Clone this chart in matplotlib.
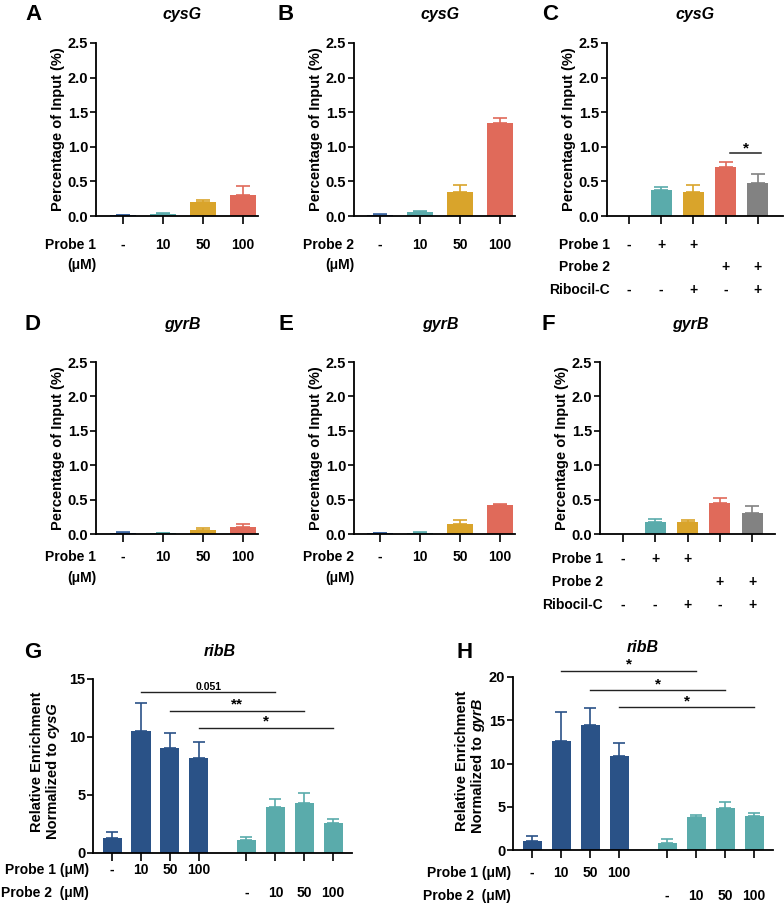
import matplotlib
matplotlib.use("Agg")
import matplotlib.pyplot as plt

# ---------------- data ----------------
# top / middle rows: Percentage of Input (%)
a_mean = [0.01, 0.03, 0.20, 0.30]
a_err = [0.01, 0.01, 0.03, 0.13]
b_mean = [0.02, 0.06, 0.35, 1.34]
b_err = [0.01, 0.01, 0.10, 0.07]
c_mean = [0.0, 0.38, 0.35, 0.71, 0.48]
c_err = [0.0, 0.04, 0.10, 0.07, 0.12]
d_mean = [0.02, 0.01, 0.06, 0.10]
d_err = [0.005, 0.005, 0.02, 0.05]
e_mean = [0.01, 0.02, 0.15, 0.42]
e_err = [0.005, 0.01, 0.06, 0.02]
f_mean = [0.0, 0.17, 0.18, 0.45, 0.31]
f_err = [0.0, 0.05, 0.02, 0.07, 0.09]

dose_labels = ['-', '10', '50', '100']
c_probe1 = ['-', '+', '+', '', '']
c_probe2 = ['', '', '', '+', '+']
c_ribocil = ['-', '-', '+', '-', '+']

# bottom row: relative enrichment of ribB
g_mean = [1.3, 10.55, 9.05, 8.2, 1.1, 4.0, 4.35, 2.6]
g_err = [0.55, 2.35, 1.3, 1.4, 0.25, 0.65, 0.8, 0.3]
h_mean = [1.0, 12.6, 14.45, 10.9, 0.85, 3.85, 4.9, 3.95]
h_err = [0.65, 3.35, 2.0, 1.45, 0.45, 0.2, 0.7, 0.35]
g_probe1 = ['-', '10', '50', '100', '', '', '', '']
g_probe2 = ['', '', '', '', '-', '10', '50', '100']
g_sig = ['0.051', '**', '*']
g_sig_y = [13.9, 12.25, 10.8]
h_sig = ['*', '*', '*']
h_sig_y = [20.7, 18.5, 16.5]

# ---------------- style ----------------
plt.rcParams['font.family'] = ['Liberation Sans', 'DejaVu Sans']
plt.rcParams['font.weight'] = 'bold'
plt.rcParams['axes.labelweight'] = 'bold'

BLUE = '#3a64a0'
DARK_BLUE = '#2a5287'
TEAL = '#5aabab'
GOLD = '#d9a42b'
SALMON = '#e06a5a'
GRAY = '#828282'

W, H = 784, 906
fig = plt.figure(figsize=(W / 100, H / 100), dpi=100)


def px_axes(x0, ytop, x1, ybot):
    return fig.add_axes([x0 / W, 1 - ybot / H, (x1 - x0) / W, (ybot - ytop) / H])


def ftext(x, y, s, **kw):
    kw.setdefault('ha', 'center')
    kw.setdefault('va', 'center')
    fig.text(x / W, 1 - y / H, s, **kw)


def style_ax(ax, yticks, fmt):
    for s in ['top', 'right']:
        ax.spines[s].set_visible(False)
    for s in ['left', 'bottom']:
        ax.spines[s].set_linewidth(1.3)
    ax.set_yticks(yticks)
    ax.set_yticklabels([fmt.format(t) for t in yticks], fontsize=10.5, fontweight='bold')
    ax.tick_params(axis='y', length=4, width=1.2, pad=1.5)
    ax.tick_params(axis='x', length=6, width=1.2, labelbottom=False)


def draw_bars(ax, pos, means, errs, colors, width, capsize):
    for p, m, e, c in zip(pos, means, errs, colors):
        if m <= 0:
            continue
        ax.bar(p, m, width=width, color=c, zorder=2)
        ax.errorbar(p, m, yerr=[[0], [e]], fmt='none', ecolor=c, elinewidth=1.2,
                    capsize=capsize, capthick=1.2, zorder=1)
    ax.set_xticks(pos)


def row_text(ax, pos, labels, dy, name, name_dx=0, size=10):
    for p, s in zip(pos, labels):
        if s:
            ax.annotate(s, xy=(p, 0), xycoords=ax.get_xaxis_transform(),
                        xytext=(0, -dy), textcoords='offset pixels',
                        ha='center', va='center', fontsize=size, fontweight='bold')
    ax.annotate(name, xy=(0, 0), xycoords='axes fraction',
                xytext=(name_dx, -dy), textcoords='offset pixels',
                ha='right', va='center', fontsize=size, fontweight='bold')


def small_panel(box, means, errs, colors, title, tx, ty, letter, lx):
    ax = px_axes(*box)
    n = len(means)
    pos = list(range(n))
    draw_bars(ax, pos, means, errs, colors, 0.65, 5)
    ax.set_ylim(0, 2.5)
    style_ax(ax, [0, 0.5, 1.0, 1.5, 2.0, 2.5], '{:.1f}')
    ax.set_ylabel('Percentage of Input (%)', fontsize=10.5, fontweight='bold', labelpad=2)
    ftext(tx, ty, title, fontsize=11.5, fontweight='bold', style='italic')
    ftext(lx, ty, letter, fontsize=16, fontweight='bold')
    return ax, pos


c4 = [BLUE, TEAL, GOLD, SALMON]
c5 = [BLUE, TEAL, GOLD, SALMON, GRAY]

# ---- row 1 ----
ax, pos = small_panel((96, 43, 258, 216), a_mean, a_err, c4, 'cysG', 182, 15, 'A', 33)
ax.set_xlim(-0.675, 3.375)
row_text(ax, pos, dose_labels, 29, 'Probe 1')
row_text(ax, [], [], 49, '(μM)')

ax, pos = small_panel((354, 43, 515, 216), b_mean, b_err, c4, 'cysG', 440, 15, 'B', 286)
ax.set_xlim(-0.65, 3.375)
row_text(ax, pos, dose_labels, 29, 'Probe 2')
row_text(ax, [], [], 49, '(μM)')

ax, pos = small_panel((607, 43, 783, 216), c_mean, c_err, c5, 'cysG', 695, 15, 'C', 550)
ax.set_xlim(-0.68, 4.78)
row_text(ax, pos, c_probe1, 29, 'Probe 1', 3)
row_text(ax, pos, c_probe2, 51, 'Probe 2', 3)
row_text(ax, pos, c_ribocil, 74, 'Ribocil-C', 3)
ax.plot([3.15, 4.1], [0.91, 0.91], color='#222222', lw=1.1)
ax.annotate('*', xy=(3.62, 0.91), xytext=(0, 1), textcoords='offset pixels',
            ha='center', va='baseline', fontsize=11, fontweight='bold')

# ---- row 2 ----
ax, pos = small_panel((96, 362, 258, 534), d_mean, d_err, c4, 'gyrB', 182, 325, 'D', 33)
ax.set_xlim(-0.675, 3.375)
row_text(ax, pos, dose_labels, 23, 'Probe 1')
row_text(ax, [], [], 44, '(μM)')

ax, pos = small_panel((354, 362, 515, 534), e_mean, e_err, c4, 'gyrB', 440, 325, 'E', 286)
ax.set_xlim(-0.65, 3.375)
row_text(ax, pos, dose_labels, 23, 'Probe 2')
row_text(ax, [], [], 44, '(μM)')

ax, pos = small_panel((600, 362, 775, 534), f_mean, f_err, c5, 'gyrB', 690, 325, 'F', 548)
ax.set_xlim(-0.7, 4.7)
row_text(ax, pos, c_probe1, 25, 'Probe 1', 3)
row_text(ax, pos, c_probe2, 48, 'Probe 2', 3)
row_text(ax, pos, c_ribocil, 71, 'Ribocil-C', 3)

# ---- row 3 ----
big_pos = [0, 1, 2, 3, 4.65, 5.65, 6.65, 7.65]
big_cols = [DARK_BLUE] * 4 + [TEAL] * 4


def big_panel(box, means, errs, ymax, yticks, sig, sig_y, sig_sizes, gene,
              tx, ty, letter, lx, ly, lab_x, lab_y, split_y, rows_dy, name_dx):
    ax = px_axes(*box)
    draw_bars(ax, big_pos, means, errs, big_cols, 0.66, 4)
    ax.set_xlim(-0.66, 8.3)
    ax.set_ylim(0, ymax)
    style_ax(ax, yticks, '{:d}')
    for i, (s, y) in enumerate(zip(sig, sig_y)):
        x0, x1 = big_pos[i + 1], big_pos[i + 5]
        ax.plot([x0, x1], [y, y], color='#222222', lw=1.0, clip_on=False)
        ax.annotate(s, xy=((x0 + x1) / 2, y), xytext=(0, 2), textcoords='offset pixels',
                    ha='center', va='baseline', fontsize=sig_sizes[i], fontweight='bold',
                    annotation_clip=False)
    row_text(ax, big_pos, g_probe1, rows_dy[0], 'Probe 1 (μM)', name_dx)
    row_text(ax, big_pos, g_probe2, rows_dy[1], 'Probe 2  (μM)', name_dx)
    ftext(tx, ty, 'ribB', fontsize=11.5, fontweight='bold', style='italic')
    ftext(lx, ly, letter, fontsize=16, fontweight='bold')
    # two-line y label, gene name in italics
    ftext(lab_x, lab_y, 'Relative Enrichment', rotation=90, fontsize=10.5, fontweight='bold')
    fig.text((lab_x + 16) / W, 1 - split_y / H, 'Normalized to ', rotation=90,
             rotation_mode='anchor', ha='right', va='center', fontsize=10.5, fontweight='bold')
    fig.text((lab_x + 16) / W, 1 - split_y / H, gene, rotation=90,
             rotation_mode='anchor', ha='left', va='center', fontsize=10.5,
             fontweight='bold', style='italic')
    return ax


big_panel((93, 679, 352, 853), g_mean, g_err, 15, [0, 5, 10, 15], g_sig, g_sig_y,
          [7.5, 11, 11], 'cysG', 220, 652, 'G', 33, 652, 37, 762, 738, (17, 40), -4)
big_panel((513, 677, 773, 850), h_mean, h_err, 20, [0, 5, 10, 15, 20], h_sig, h_sig_y,
          [11, 11, 11], 'gyrB', 643, 648, 'H', 465, 653, 462, 761, 732, (23, 46), -2)

fig.savefig('out.png', dpi=100)
